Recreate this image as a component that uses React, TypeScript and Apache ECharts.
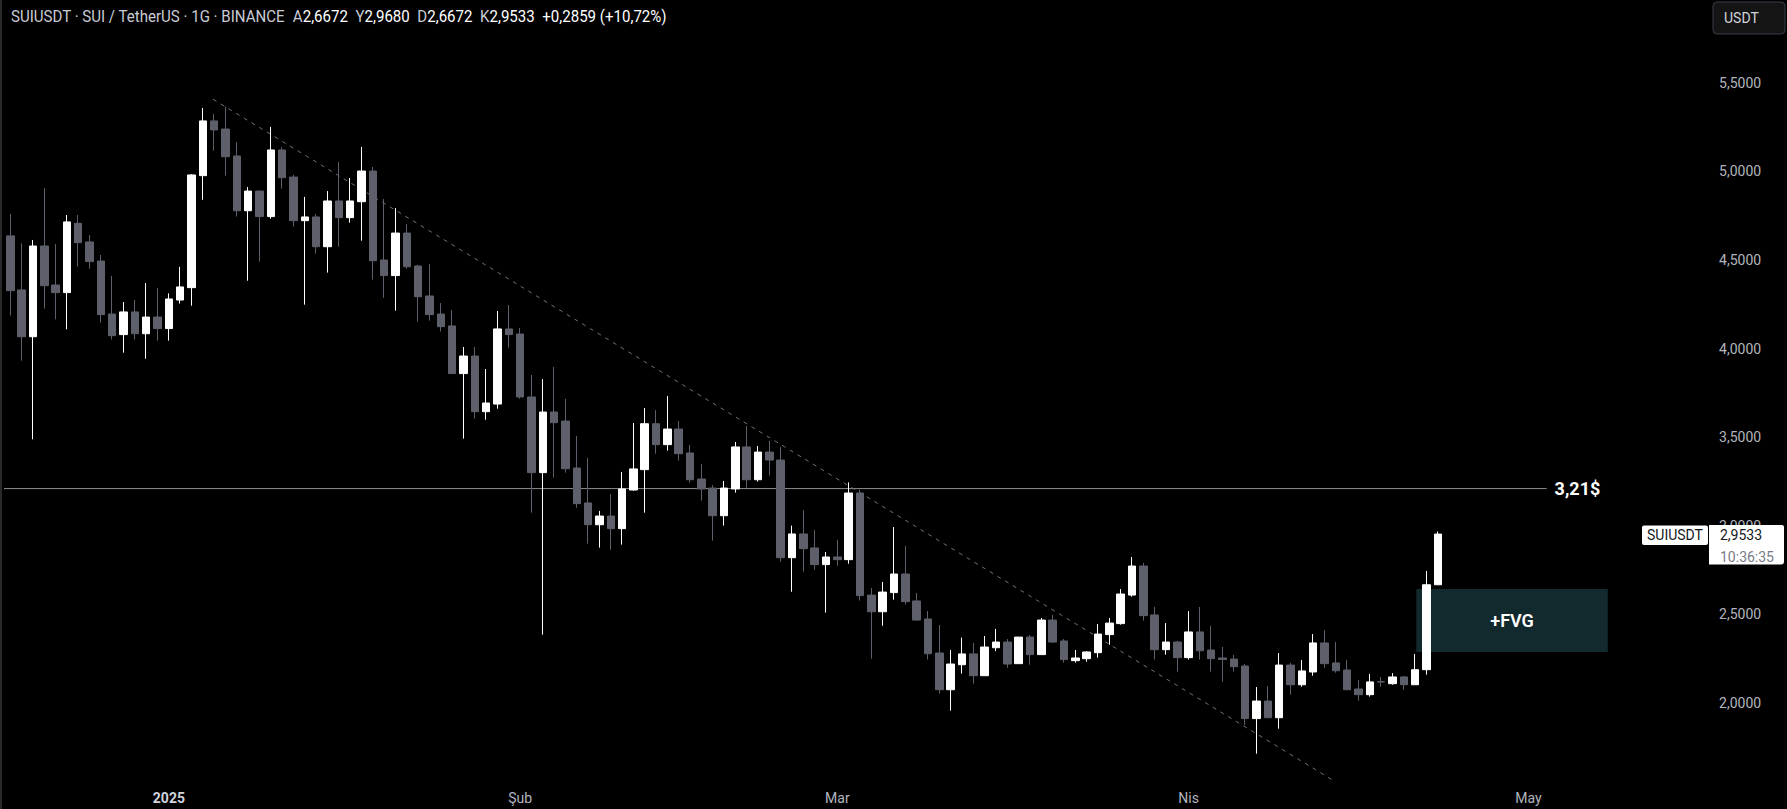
import React, { useEffect, useRef } from "react";
import * as echarts from "echarts";

// ---------- data ----------
const START_DATE = "2024-12-18"; // first daily candle
const DAY_SLOTS = 150; // days shown on the time axis (candles + empty space on the right)
const MONTHS_TR = ["Oca", "Şub", "Mar", "Nis", "May", "Haz", "Tem", "Ağu", "Eyl", "Eki", "Kas", "Ara"];

const opens = [
  4.636, 4.331, 4.067, 4.579, 4.359, 4.316, 4.707, 4.602, 4.494, 4.195,
  4.079, 4.207, 4.084, 4.178, 4.113, 4.274, 4.344, 4.976, 5.285, 5.239,
  5.087, 4.778, 4.889, 4.745, 5.121, 4.968, 4.722, 4.743, 4.575, 4.833,
  4.739, 4.829, 5.002, 4.5, 4.412, 4.652, 4.466, 4.297, 4.195, 4.128,
  3.859, 3.958, 3.644, 3.687, 4.111, 4.082, 3.727, 3.3, 3.642, 3.591,
  3.326, 3.129, 3.006, 3.055, 2.984, 3.202, 3.317, 3.576, 3.458, 3.546,
  3.411, 3.264, 3.213, 3.057, 3.208, 3.445, 3.26, 3.416, 3.371, 2.82,
  2.954, 2.875, 2.781, 2.824, 2.809, 3.185, 2.609, 2.515, 2.623, 2.728,
  2.576, 2.474, 2.282, 2.075, 2.216, 2.277, 2.154, 2.312, 2.344, 2.222,
  2.372, 2.273, 2.468, 2.35, 2.239, 2.25, 2.284, 2.386, 2.448, 2.609,
  2.773, 2.497, 2.301, 2.344, 2.256, 2.401, 2.299, 2.254, 2.248, 2.209,
  1.912, 2.011, 1.917, 2.214, 2.103, 2.175, 2.339, 2.226, 2.186, 2.079,
  2.047, 2.12, 2.109, 2.147, 2.103, 2.188, 2.6672,
];
const closes = [
  4.327, 4.067, 4.579, 4.355, 4.316, 4.715, 4.598, 4.491, 4.192, 4.073,
  4.207, 4.084, 4.178, 4.113, 4.28, 4.348, 4.98, 5.285, 5.234, 5.083,
  4.778, 4.889, 4.745, 5.121, 4.965, 4.722, 4.743, 4.575, 4.833, 4.739,
  4.833, 5.002, 4.496, 4.412, 4.652, 4.462, 4.293, 4.192, 4.124, 3.859,
  3.958, 3.644, 3.693, 4.111, 4.079, 3.727, 3.3, 3.642, 3.582, 3.322,
  3.125, 3.006, 3.055, 2.984, 3.208, 3.321, 3.576, 3.458, 3.546, 3.407,
  3.26, 3.208, 3.057, 3.213, 3.445, 3.26, 3.416, 3.371, 2.82, 2.954,
  2.871, 2.781, 2.824, 2.809, 3.185, 2.606, 2.515, 2.626, 2.728, 2.572,
  2.468, 2.278, 2.075, 2.22, 2.277, 2.154, 2.316, 2.344, 2.22, 2.372,
  2.273, 2.468, 2.344, 2.245, 2.254, 2.288, 2.389, 2.451, 2.615, 2.773,
  2.493, 2.301, 2.344, 2.256, 2.401, 2.295, 2.25, 2.246, 2.205, 1.912,
  2.011, 1.917, 2.214, 2.103, 2.181, 2.339, 2.222, 2.182, 2.075, 2.047,
  2.119, 2.119, 2.147, 2.103, 2.188, 2.6672, 2.9533,
];
const lows = [
  4.186, 3.932, 3.488, 4.225, 4.165, 4.109, 4.462, 4.451, 4.146, 4.052,
  3.977, 4.052, 3.943, 4.045, 4.045, 4.254, 4.242, 4.84, 5.117, 4.976,
  4.745, 4.383, 4.491, 4.733, 4.903, 4.688, 4.248, 4.536, 4.429, 4.575,
  4.711, 4.609, 4.389, 4.287, 4.214, 4.451, 4.152, 4.158, 4.096, 3.859,
  3.492, 3.605, 3.599, 3.661, 4.005, 3.717, 3.074, 2.386, 3.272, 3.3,
  3.102, 2.899, 2.877, 2.865, 2.894, 3.198, 3.074, 3.407, 3.424, 3.368,
  3.243, 3.142, 2.916, 3.001, 3.187, 3.215, 3.249, 3.283, 2.798, 2.628,
  2.741, 2.752, 2.51, 2.775, 2.786, 2.578, 2.25, 2.436, 2.583, 2.555,
  2.465, 2.245, 2.053, 1.957, 2.166, 2.109, 2.154, 2.293, 2.199, 2.222,
  2.216, 2.273, 2.339, 2.228, 2.228, 2.233, 2.256, 2.329, 2.442, 2.6,
  2.465, 2.245, 2.273, 2.177, 2.245, 2.245, 2.177, 2.12, 2.177, 1.876,
  1.714, 1.917, 1.855, 2.047, 2.092, 2.154, 2.199, 2.171, 2.075, 2.013,
  2.036, 2.092, 2.103, 2.075, 2.103, 2.16, 2.6672,
];
const highs = [
  4.76, 4.594, 4.613, 4.906, 4.59, 4.754, 4.754, 4.641, 4.528, 4.41,
  4.263, 4.274, 4.37, 4.342, 4.312, 4.461, 4.985, 5.358, 5.324, 5.365,
  5.166, 4.912, 4.889, 5.251, 5.138, 4.98, 4.856, 4.76, 4.889, 5.053,
  4.963, 5.138, 5.025, 4.844, 4.793, 4.703, 4.472, 4.477, 4.257, 4.218,
  4.009, 4.009, 3.885, 4.212, 4.246, 4.116, 3.851, 3.828, 3.896, 3.716,
  3.507, 3.383, 3.084, 3.179, 3.304, 3.58, 3.665, 3.653, 3.733, 3.591,
  3.456, 3.349, 3.23, 3.253, 3.473, 3.563, 3.45, 3.479, 3.445, 3.001,
  3.089, 2.976, 2.852, 2.92, 3.245, 3.204, 2.649, 2.683, 2.993, 2.886,
  2.621, 2.519, 2.44, 2.299, 2.369, 2.339, 2.378, 2.418, 2.361, 2.372,
  2.384, 2.48, 2.497, 2.361, 2.299, 2.293, 2.446, 2.48, 2.643, 2.824,
  2.79, 2.542, 2.451, 2.35, 2.519, 2.542, 2.435, 2.316, 2.271, 2.22,
  2.09, 2.096, 2.282, 2.226, 2.243, 2.389, 2.412, 2.344, 2.243, 2.13,
  2.164, 2.147, 2.169, 2.152, 2.277, 2.745, 2.968,
];

// drawings (x = day index from START_DATE, y = price)
const trendLine = [
  [17.9, 5.407],
  [117.0, 1.554],
];
const levelValue = 3.21;
const levelLine = [
  [-0.91, levelValue],
  [135.6, levelValue],
];
const fvgZone = { x0: 124.1, x1: 141.0, top: 2.643, bottom: 2.288 };

const lastPrice = 2.9533;
const headerParts = [
  { k: "t", s: "SUIUSDT · SUI / TetherUS · 1G · BINANCE" },
  { k: "l", s: "  A" },
  { k: "v", s: "2,6672" },
  { k: "l", s: "  Y" },
  { k: "v", s: "2,9680" },
  { k: "l", s: "  D" },
  { k: "v", s: "2,6672" },
  { k: "l", s: "  K" },
  { k: "v", s: "2,9533" },
  { k: "v", s: "  +0,2859 (+10,72%)" },
];

const DAY_MS = 86400000;
const startMs = Date.parse(START_DATE + "T00:00:00Z");
const categories: string[] = [];
for (let i = 0; i < DAY_SLOTS; i++) {
  categories.push(new Date(startMs + i * DAY_MS).toISOString().slice(0, 10));
}

const fmtPrice = (v: number) => v.toFixed(4).replace(".", ",");

export default function App() {
  const ref = useRef<HTMLDivElement>(null);

  useEffect(() => {
    document.body.style.margin = "0";
    document.body.style.background = "#000";
    if (!ref.current) return;
    const chart = echarts.init(ref.current, null, { renderer: "svg" });

    const candleData = opens.map((o, i) => [o, closes[i], lows[i], highs[i]]);

    chart.setOption({
      animation: false,
      backgroundColor: "#000000",
      textStyle: { fontFamily: "Roboto, 'Liberation Sans', sans-serif" },
      grid: {
        left: 4.6,
        right: 82.9,
        top: -5.8,
        bottom: 17.4,
        containLabel: false,
        outerBoundsMode: "none",
      },
      xAxis: [
        {
          type: "category",
          data: categories,
          boundaryGap: true,
          axisLine: { show: false },
          axisTick: { show: false },
          splitLine: { show: false },
          axisLabel: {
            interval: (_idx: number, val: string) => val.slice(8, 10) === "01",
            formatter: (val: string) => {
              const m = parseInt(val.slice(5, 7), 10) - 1;
              if (m === 0) return "{y|" + val.slice(0, 4) + "}";
              return MONTHS_TR[m];
            },
            color: "#b2b5be",
            fontSize: 14,
            margin: 6,
            verticalAlign: "middle",
            rich: {
              y: { fontWeight: "bold", color: "#d1d4dc", fontSize: 14 },
            },
          },
        },
        {
          type: "value",
          min: -0.5,
          max: DAY_SLOTS - 0.5,
          show: false,
          splitLine: { show: false },
        },
      ],
      yAxis: {
        type: "value",
        position: "right",
        min: 1.5,
        max: 6.0,
        interval: 0.5,
        scale: true,
        splitLine: { show: false },
        axisLine: { show: false },
        axisTick: { show: false },
        axisLabel: {
          formatter: (v: number) => (v < 1.9 || v > 5.9 ? "" : fmtPrice(v)),
          color: "#b2b5be",
          fontSize: 14,
          margin: 15,
          align: "left",
        },
      },
      series: [
        {
          type: "line",
          xAxisIndex: 1,
          yAxisIndex: 0,
          data: [],
          silent: true,
          z: 1,
          markArea: {
            silent: true,
            itemStyle: { color: "#12292d" },
            label: {
              show: true,
              position: "inside",
              formatter: "+FVG",
              color: "#ffffff",
              fontSize: 18,
              fontWeight: 600,
            },
            data: [
              [
                { coord: [fvgZone.x0, fvgZone.top] },
                { coord: [fvgZone.x1, fvgZone.bottom] },
              ],
            ],
          },
        },
        {
          type: "line",
          xAxisIndex: 1,
          yAxisIndex: 0,
          data: levelLine,
          symbol: "none",
          silent: true,
          z: 3,
          lineStyle: { color: "#8e8e8e", width: 1 },
          endLabel: {
            show: true,
            formatter: "3,21$",
            color: "#ffffff",
            fontSize: 18,
            fontWeight: "bold",
            distance: 8,
          },
        },
        {
          type: "line",
          xAxisIndex: 1,
          yAxisIndex: 0,
          data: trendLine,
          symbol: "none",
          silent: true,
          z: 3,
          lineStyle: { color: "#6e717b", width: 1, type: [4, 5] },
        },
        {
          type: "candlestick",
          xAxisIndex: 0,
          yAxisIndex: 0,
          data: candleData,
          barWidth: 8,
          z: 5,
          itemStyle: {
            color: "#ffffff",
            color0: "#5d606b",
            borderColor: "#ffffff",
            borderColor0: "#5d606b",
            borderWidth: 1,
          },
        },
      ],
    });

    // overlay labels (price label positioned through the axis scale)
    const py = chart.convertToPixel({ yAxisIndex: 0 }, lastPrice) as number;
    const headerText = headerParts.map((p) => p.s).join("");
    let scaleX = 1;
    try {
      const ctx = document.createElement("canvas").getContext("2d");
      if (ctx) {
        ctx.font = "16px Roboto";
        const w = ctx.measureText(headerText).width;
        if (w > 0) scaleX = 656 / w;
      }
    } catch (e) {
      scaleX = 1;
    }
    const richText = headerParts.map((p) => "{" + p.k + "|" + p.s + "}").join("");

    chart.setOption({
      graphic: [
        { type: "rect", left: 0, top: 0, shape: { width: 2, height: 809 }, style: { fill: "#2a2a2a" }, silent: true },
        {
          type: "text",
          x: 11,
          y: 17,
          scaleX,
          z: 100,
          style: {
            text: richText,
            fontSize: 16,
            fontFamily: "Roboto",
            verticalAlign: "middle",
            rich: {
              t: { fill: "#c9ccd4", fontSize: 16, fontFamily: "Roboto" },
              l: { fill: "#c9ccd4", fontSize: 16, fontFamily: "Roboto" },
              v: { fill: "#ffffff", fontSize: 16, fontFamily: "Roboto" },
            },
          },
        },
        {
          type: "rect",
          x: 1713,
          y: 2,
          z: 100,
          shape: { width: 72, height: 32, r: 4 },
          style: { fill: "#141414", stroke: "#3a3d46", lineWidth: 1 },
        },
        {
          type: "text",
          x: 1724,
          y: 18,
          z: 101,
          style: { text: "USDT", fill: "#d1d4dc", fontSize: 14, fontFamily: "Roboto", verticalAlign: "middle" },
        },
        {
          type: "rect",
          x: 1642,
          y: py - 8.5,
          z: 100,
          shape: { width: 66, height: 19.5, r: 2 },
          style: { fill: "#ffffff" },
        },
        {
          type: "text",
          x: 1647,
          y: py + 1,
          z: 101,
          style: { text: "SUIUSDT", fill: "#131722", fontSize: 14, fontFamily: "Roboto", verticalAlign: "middle" },
        },
        {
          type: "rect",
          x: 1709,
          y: py - 9,
          z: 100,
          shape: { width: 75, height: 39.5, r: [0, 2, 3, 0] },
          style: { fill: "#ffffff" },
        },
        {
          type: "text",
          x: 1720,
          y: py + 0.5,
          z: 101,
          style: { text: fmtPrice(lastPrice), fill: "#131722", fontSize: 14, fontFamily: "Roboto", verticalAlign: "middle" },
        },
        {
          type: "text",
          x: 1720,
          y: py + 22.5,
          z: 101,
          style: { text: "10:36:35", fill: "#787b86", fontSize: 14, fontFamily: "Roboto", verticalAlign: "middle" },
        },
      ],
    });

    return () => {
      chart.dispose();
    };
  }, []);

  return <div ref={ref} style={{ width: 1787, height: 809, background: "#000" }} />;
}
